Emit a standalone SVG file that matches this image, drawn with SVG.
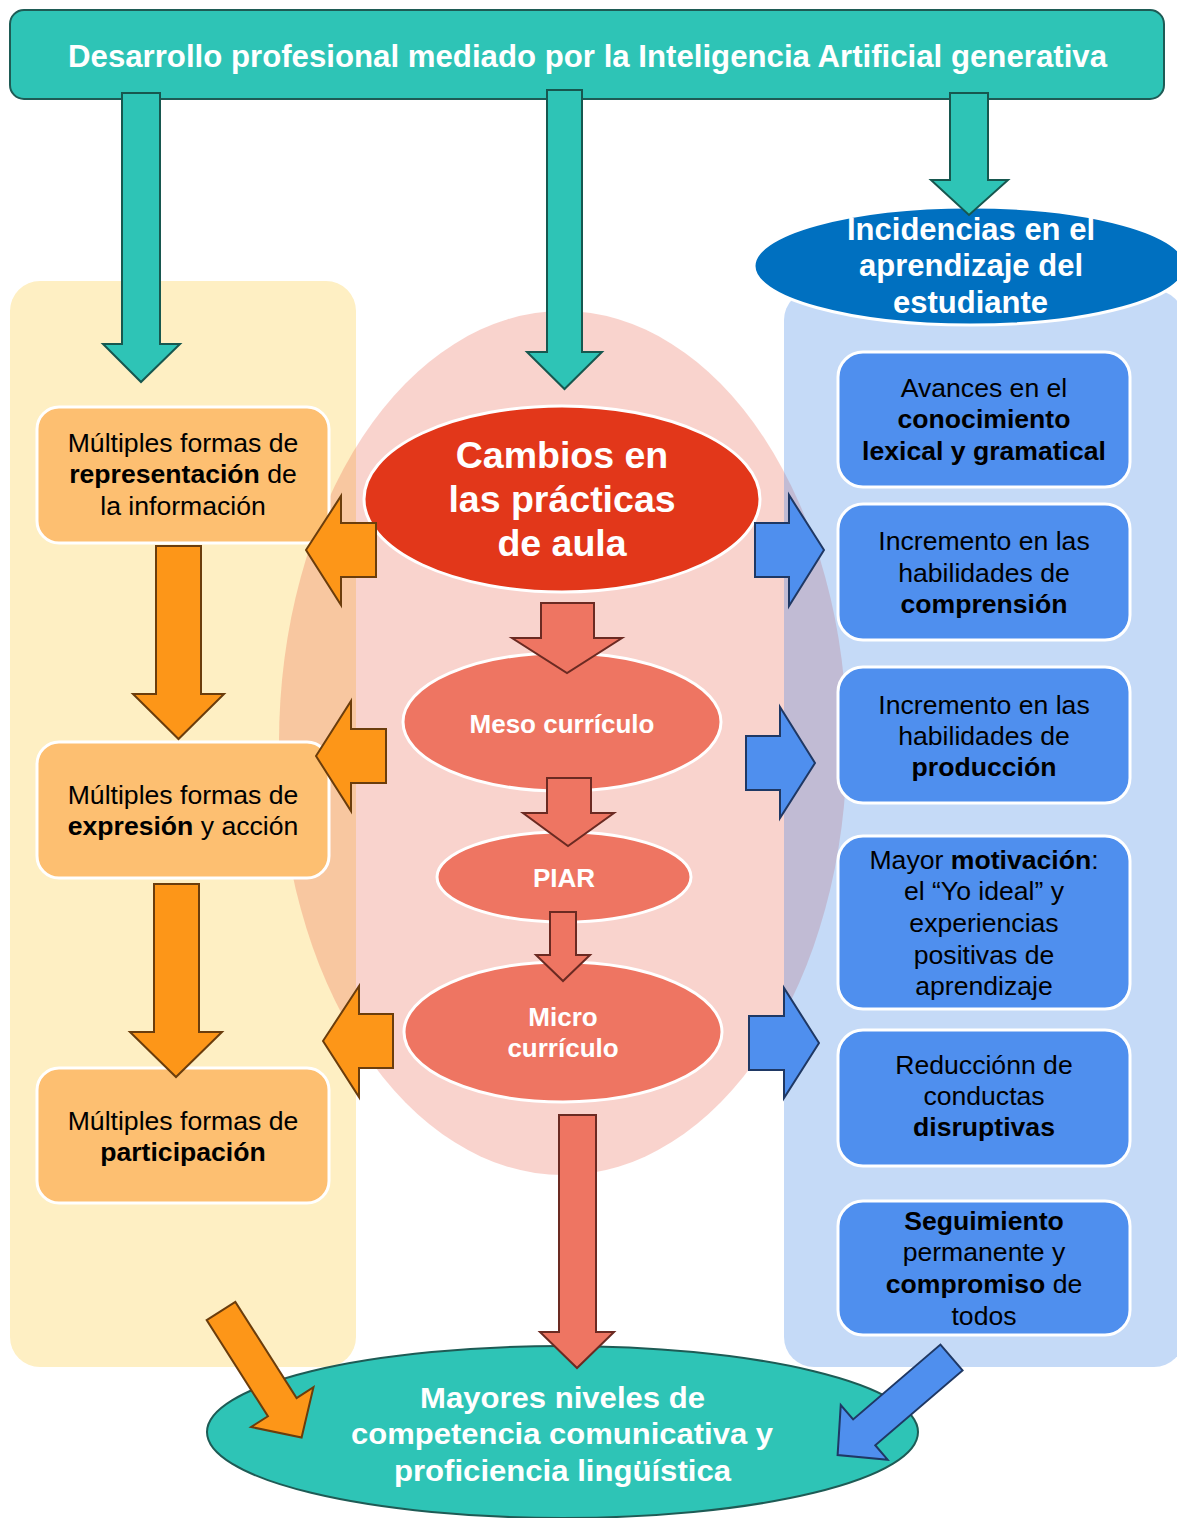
<svg xmlns="http://www.w3.org/2000/svg" width="1177" height="1518" viewBox="0 0 1177 1518">
  <style>
    .teal { fill:#2EC4B6; stroke:#1E5B55; stroke-width:2; }
    .arrow-teal { fill:#2EC4B6; stroke:#17574F; stroke-width:2; }
    .arrow-orange { fill:#FD9618; stroke:#6B3D0C; stroke-width:2; }
    .arrow-salmon { fill:#EE7562; stroke:#6B2A22; stroke-width:2; }
    .arrow-blue { fill:#4F8FEE; stroke:#1F3864; stroke-width:2; }
    .obox { fill:#FDBF71; stroke:#FFFFFF; stroke-width:3; }
    .bbox { fill:#4F8FEE; stroke:#FFFFFF; stroke-width:3; }
    .oval-white { stroke:#FFFFFF; stroke-width:3; }
    text { font-family:"Liberation Sans", Arial, sans-serif; }
    .box-text { font-size:26.6px; fill:#000000; text-anchor:middle; }
    .b { font-weight:bold; }
    .head { fill:#FFFFFF; font-weight:bold; }
    .mid { text-anchor:middle; }
  </style>

  <!-- background areas -->
  <g id="background">
    <rect id="left-panel" x="10" y="281" width="346" height="1086" rx="30" fill="#FEEFC3"/>
    <ellipse id="center-halo" cx="563" cy="743" rx="284" ry="432" fill="#E94F37" fill-opacity="0.25"/>
    <rect id="right-panel" x="784" y="290" width="400" height="1077" rx="30" fill="#3E84E4" fill-opacity="0.3"/>
  </g>

  <!-- header -->
  <g id="node-header">
    <rect x="10" y="10" width="1154" height="89" rx="14" class="teal"/>
    <text x="68" y="67" class="head" font-size="32" textLength="1039" lengthAdjust="spacingAndGlyphs">Desarrollo profesional mediado por la Inteligencia Artificial generativa</text>
  </g>

  <!-- left column -->
  <g id="node-representacion">
    <rect x="37" y="407" width="292" height="136" rx="22" class="obox"/>
    <text class="box-text"><tspan x="183" y="452">Múltiples formas de</tspan><tspan x="183" y="483"><tspan class="b">representación</tspan> de</tspan><tspan x="183" y="515">la información</tspan></text>
  </g>
  <g id="node-expresion">
    <rect x="37" y="742" width="292" height="136" rx="22" class="obox"/>
    <text class="box-text"><tspan x="183" y="804">Múltiples formas de</tspan><tspan x="183" y="835"><tspan class="b">expresión</tspan> y acción</tspan></text>
  </g>
  <g id="node-participacion">
    <rect x="37" y="1068" width="292" height="135" rx="22" class="obox"/>
    <text class="box-text"><tspan x="183" y="1130">Múltiples formas de</tspan><tspan x="183" y="1161" class="b">participación</tspan></text>
  </g>

  <!-- centre column -->
  <g id="node-cambios">
    <ellipse cx="562" cy="499" rx="198" ry="93" fill="#E2371A" class="oval-white"/>
    <text class="head mid" font-size="37.5"><tspan x="562" y="468">Cambios en</tspan><tspan x="562" y="512">las prácticas</tspan><tspan x="562" y="556">de aula</tspan></text>
  </g>
  <g id="node-meso">
    <ellipse cx="562" cy="722" rx="159" ry="69" fill="#EE7562" class="oval-white"/>
    <text x="562" y="733" class="head mid" font-size="26">Meso currículo</text>
  </g>
  <g id="node-piar">
    <ellipse cx="564" cy="877" rx="127" ry="45" fill="#EE7562" class="oval-white"/>
    <text x="564" y="887" class="head mid" font-size="26">PIAR</text>
  </g>
  <g id="node-micro">
    <ellipse cx="563" cy="1032" rx="159" ry="70" fill="#EE7562" class="oval-white"/>
    <text class="head mid" font-size="26"><tspan x="563" y="1026">Micro</tspan><tspan x="563" y="1057">currículo</tspan></text>
  </g>

  <!-- right column -->
  <g id="node-incidencias">
    <ellipse cx="970" cy="266" rx="216" ry="59" fill="#0070C0" class="oval-white"/>
    <text class="head" font-size="31">
      <tspan x="847" y="240" textLength="248" lengthAdjust="spacingAndGlyphs">Incidencias en el</tspan>
      <tspan x="859" y="276" textLength="224" lengthAdjust="spacingAndGlyphs">aprendizaje del</tspan>
      <tspan x="893" y="313" textLength="155" lengthAdjust="spacingAndGlyphs">estudiante</tspan>
    </text>
  </g>
  <g id="node-lexical">
    <rect x="838" y="352" width="292" height="135" rx="25" class="bbox"/>
    <text class="box-text"><tspan x="984" y="397">Avances en el</tspan><tspan x="984" y="428" class="b">conocimiento</tspan><tspan x="984" y="460" class="b">lexical y gramatical</tspan></text>
  </g>
  <g id="node-comprension">
    <rect x="838" y="504" width="292" height="136" rx="25" class="bbox"/>
    <text class="box-text"><tspan x="984" y="550">Incremento en las</tspan><tspan x="984" y="582">habilidades de</tspan><tspan x="984" y="613" class="b">comprensión</tspan></text>
  </g>
  <g id="node-produccion">
    <rect x="838" y="667" width="292" height="136" rx="25" class="bbox"/>
    <text class="box-text"><tspan x="984" y="714">Incremento en las</tspan><tspan x="984" y="745">habilidades de</tspan><tspan x="984" y="776" class="b">producción</tspan></text>
  </g>
  <g id="node-motivacion">
    <rect x="838" y="836" width="292" height="173" rx="25" class="bbox"/>
    <text class="box-text"><tspan x="984" y="869">Mayor <tspan class="b">motivación</tspan>:</tspan><tspan x="984" y="900">el “Yo ideal” y</tspan><tspan x="984" y="932">experiencias</tspan><tspan x="984" y="964">positivas de</tspan><tspan x="984" y="995">aprendizaje</tspan></text>
  </g>
  <g id="node-disruptivas">
    <rect x="838" y="1030" width="292" height="136" rx="25" class="bbox"/>
    <text class="box-text"><tspan x="984" y="1074">Reducciónn de</tspan><tspan x="984" y="1105">conductas</tspan><tspan x="984" y="1136" class="b">disruptivas</tspan></text>
  </g>
  <g id="node-seguimiento">
    <rect x="838" y="1201" width="292" height="134" rx="25" class="bbox"/>
    <text class="box-text"><tspan x="984" y="1230" class="b">Seguimiento</tspan><tspan x="984" y="1261">permanente y</tspan><tspan x="984" y="1293"><tspan class="b">compromiso</tspan> de</tspan><tspan x="984" y="1325">todos</tspan></text>
  </g>

  <!-- outcome -->
  <g id="node-competencia">
    <ellipse cx="562.5" cy="1432" rx="355.5" ry="86" class="teal"/>
    <text class="head" font-size="30">
      <tspan x="420" y="1408" textLength="285" lengthAdjust="spacingAndGlyphs">Mayores niveles de</tspan>
      <tspan x="351" y="1444" textLength="422" lengthAdjust="spacingAndGlyphs">competencia comunicativa y</tspan>
      <tspan x="394" y="1481" textLength="337" lengthAdjust="spacingAndGlyphs">proficiencia lingüística</tspan>
    </text>
  </g>

  <!-- block arrows -->
  <g id="connectors">
    <polygon class="arrow-teal" points="122,93 160,93 160,344 180,344 141,382 103,344 122,344"/>
    <polygon class="arrow-teal" points="547,90 582,90 582,352 602,352 564.5,389 527,352 547,352"/>
    <polygon class="arrow-teal" points="950,93 988,93 988,180 1008,180 969,215 931,180 950,180"/>

    <polygon class="arrow-orange" points="156,546 201,546 201,694 224,694 178.5,739 133,694 156,694"/>
    <polygon class="arrow-orange" points="154,884 199,884 199,1032 222,1032 176,1077 130,1032 154,1032"/>

    <polygon class="arrow-orange" points="306,550 341,496 341,523 376,523 376,577 341,577 341,605"/>
    <polygon class="arrow-orange" points="316,756 351,701 351,729 386,729 386,783 351,783 351,811"/>
    <polygon class="arrow-orange" points="323,1041 359,986 359,1014 393,1014 393,1068 359,1068 359,1097"/>

    <polygon class="arrow-blue" points="824,550 789,495 789,523 755,523 755,577 789,577 789,606"/>
    <polygon class="arrow-blue" points="815,763 780,707 780,736 746,736 746,790 780,790 780,818"/>
    <polygon class="arrow-blue" points="819,1043 784,988 784,1016 749,1016 749,1070 784,1070 784,1098"/>

    <polygon class="arrow-salmon" points="541,603 594,603 594,638 622,638 567,673 512,638 541,638"/>
    <polygon class="arrow-salmon" points="547,778 591,778 591,813 614,813 568,846 523,813 547,813"/>
    <polygon class="arrow-salmon" points="550,912 576,912 576,955 590,955 563,981 536,955 550,955"/>
    <polygon class="arrow-salmon" points="559,1115 596,1115 596,1332 614,1332 577,1368 540,1332 559,1332"/>

    <polygon class="arrow-orange" transform="translate(221,1311) rotate(-32.5)" points="-17,0 17,0 17,114 37,114 0,150 -37,114 -17,114"/>
    <polygon class="arrow-blue" transform="translate(951.5,1357.5) rotate(49.4)" points="-17,0 17,0 17,115 36,115 0,150 -36,115 -17,115"/>
  </g>
</svg>
